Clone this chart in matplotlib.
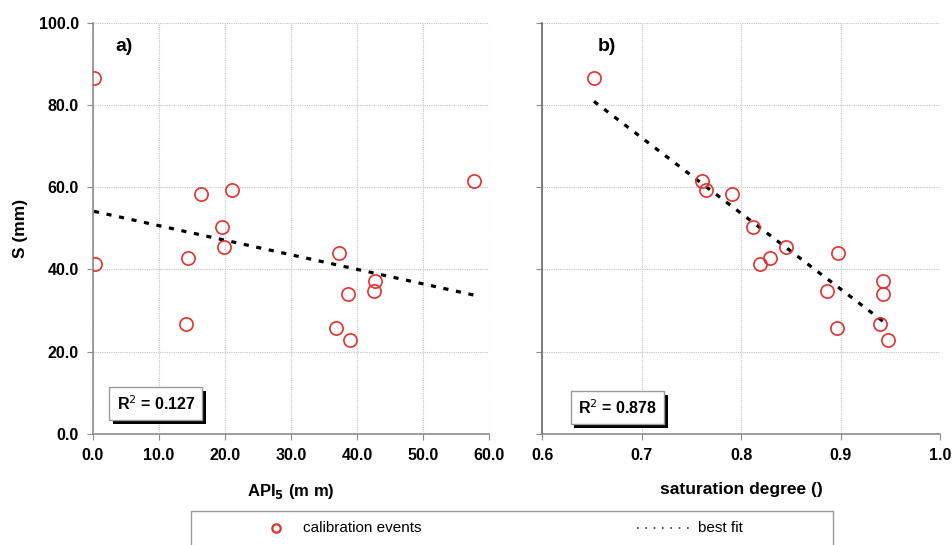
import numpy as np
import matplotlib
matplotlib.use('Agg')
import matplotlib.pyplot as plt
from matplotlib.lines import Line2D
from matplotlib.patches import Rectangle
import matplotlib.patheffects as pe

# calibration events
api5 = [0.2, 0.35, 16.4, 21.1, 19.5, 19.9, 14.4, 37.3, 57.7, 42.7, 42.6, 38.7, 14.1, 36.8, 38.9]
sat = [0.652, 0.8195, 0.791, 0.7645, 0.812, 0.845, 0.829, 0.897, 0.761, 0.943, 0.886, 0.943, 0.9395, 0.896, 0.9475]
s_mm = [86.6, 41.3, 58.3, 59.4, 50.4, 45.5, 42.9, 43.9, 61.5, 37.2, 34.8, 34.1, 26.6, 25.8, 22.8]

r2_labels = ['R$^{2}$ = 0.127', 'R$^{2}$ = 0.878']
panel_labels = ['a)', 'b)']

plt.rcParams['font.family'] = ['Liberation Sans', 'DejaVu Sans']

red = '#e5302b'
gray = '#8c8c8c'

fig = plt.figure(figsize=(9.53, 5.45), dpi=100)
ax1 = fig.add_axes([0.0973, 0.2042, 0.416, 0.7536])
ax2 = fig.add_axes([0.569, 0.2042, 0.4173, 0.7536])


def style(ax):
    for side in ['top', 'right']:
        ax.spines[side].set_visible(False)
    for side in ['left', 'bottom']:
        ax.spines[side].set_color(gray)
        ax.spines[side].set_linewidth(1.2)
    ax.grid(True, color='#c4c4c4', linestyle=(0, (1, 1)), linewidth=0.8)
    ax.set_axisbelow(True)
    ax.tick_params(direction='out', length=4, color=gray, labelsize=11.5, pad=6)
    ax.set_ylim(0, 100)
    ax.set_yticks(np.arange(0, 101, 20))


def draw(ax, x, y, r2, panel, panel_x, box_xy):
    ax.plot(x, y, 'o', ms=9.5, mfc='none', mec=red, mew=1.2, zorder=3)
    xs = np.array(x)
    k, b = np.polyfit(xs, y, 1)
    xx = np.array([xs.min(), xs.max()])
    ax.plot(xx, k * xx + b, color='k', lw=2.3, linestyle=(0, (1.6, 2.4)), zorder=2)
    ax.text(panel_x, 0.963, panel, transform=ax.transAxes, fontsize=14,
            fontweight='bold', va='top')
    t = ax.text(box_xy[0], box_xy[1], r2, transform=ax.transAxes, fontsize=11.5,
                fontweight='bold', va='bottom', ha='left',
                bbox=dict(boxstyle='square,pad=0.45', fc='white', ec='#999999', lw=1))
    t.get_bbox_patch().set_path_effects([
        pe.SimplePatchShadow(offset=(2.5, -2.5), shadow_rgbFace='k', alpha=1),
        pe.Normal()])


draw(ax1, api5, s_mm, r2_labels[0], panel_labels[0], 0.056, (0.06, 0.05))
draw(ax2, sat, s_mm, r2_labels[1], panel_labels[1], 0.14, (0.09, 0.04))

style(ax1)
ax1.set_xlim(0, 60)
ax1.set_xticks(np.arange(0, 61, 10))
ax1.xaxis.set_major_formatter('{x:.1f}')
ax1.yaxis.set_major_formatter('{x:.1f}')
ax1.set_xlabel('API$_{\\mathbf{5}}$ (m m)', fontsize=12, fontweight='bold', labelpad=14)
ax1.set_ylabel('S (mm)', fontsize=12.5, fontweight='bold', labelpad=8)

style(ax2)
ax2.set_xlim(0.6, 1.0)
ax2.set_xticks(np.arange(0.6, 1.01, 0.1))
ax2.xaxis.set_major_formatter('{x:.1f}')
ax2.set_yticklabels([])
ax2.spines['left'].set_color('#6a6a6a')
ax2.set_xlabel('saturation degree ()', fontsize=12.5, fontweight='bold', labelpad=14)

for ax in (ax1, ax2):
    for lab in ax.get_xticklabels() + ax.get_yticklabels():
        lab.set_fontweight('bold')

# legend box running off the bottom edge
fig.add_artist(Rectangle((191 / 953, -0.05), (833 - 191) / 953, 0.05 + 34 / 545,
                         transform=fig.transFigure, fc='white', ec='#999999', lw=1))
ly = 1 - 528 / 545
fig.add_artist(Line2D([275.7 / 953], [ly], marker='o', ms=6, mfc='none', mec=red,
                      mew=1.6, transform=fig.transFigure))
fig.text(303 / 953, ly, 'calibration events', fontsize=11, va='center')
fig.add_artist(Line2D([637 / 953, 693 / 953], [ly, ly], color='#333333', lw=1.2,
                      linestyle=(0, (1, 4)), transform=fig.transFigure))
fig.text(698 / 953, ly, 'best fit', fontsize=11, va='center')

fig.savefig('out.png', dpi=100)
